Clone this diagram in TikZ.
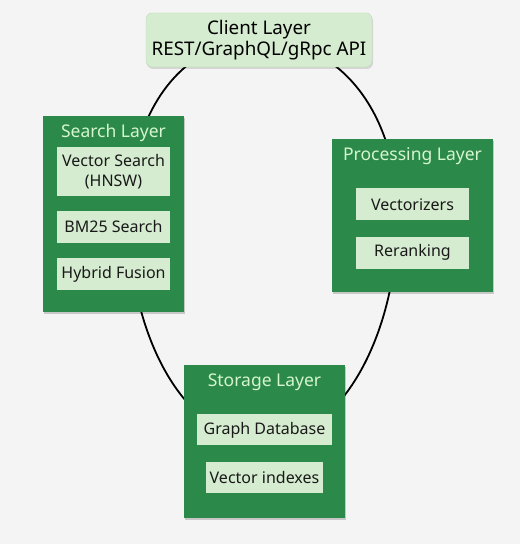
\documentclass[tikz,border=0pt]{standalone}
\usepackage{fontspec}
\setmainfont{Noto Sans}
\usepackage{tikz}
\usetikzlibrary{positioning,backgrounds,shadows}
\definecolor{canvas}{HTML}{F4F4F4}
\definecolor{layergreen}{HTML}{2B8A4A}
\definecolor{itemgreen}{HTML}{D5ECD0}
\definecolor{clientline}{HTML}{BCDDB5}
\definecolor{titlegreen}{HTML}{D6F5D0}

\begin{document}
\begin{tikzpicture}[x=1pt, y=1pt, node distance=15pt, font=\fontsize{16}{20}\selectfont,
  layer/.style={rectangle, fill=layergreen, inner sep=0pt,
    drop shadow={shadow xshift=1pt, shadow yshift=-2pt, opacity=0.18, fill=black}},
  layertitle/.style={text=titlegreen, inner sep=2pt, font=\fontsize{17.5}{21}\selectfont,
    text height=12.5pt, text depth=4pt},
  item/.style={rectangle, fill=itemgreen, text=black!90, inner sep=2pt, minimum height=32pt, align=center},
  link/.style={line width=1.8pt, black}]
  \useasboundingbox (0,0) rectangle (520,544);

  % Nodes
  \node [rectangle, rounded corners=6pt, fill=itemgreen, draw=clientline, align=center,
    minimum width=226pt, minimum height=54pt, inner sep=2pt, font=\fontsize{18.8}{20.5}\selectfont,
    drop shadow={shadow xshift=1pt, shadow yshift=-2pt, opacity=0.12, fill=black}]
    (client) at (259,504) {Client Layer\\REST/GraphQL/gRpc API};

  \node [layer, minimum width=141pt, minimum height=196pt] (search) at (113.5,330) {};
  \node [layertitle, below=7.5pt of search.north] (searchtitle) {Search Layer};
  \node [item, minimum width=113pt, minimum height=49pt, below=3pt of searchtitle] (vector) {Vector Search\\(HNSW)};
  \node [item, minimum width=113pt, below=14pt of vector] (bm25) {BM25 Search};
  \node [item, minimum width=113pt, below=15pt of bm25] (hybrid) {Hybrid Fusion};

  \node [layer, minimum width=161pt, minimum height=153pt] (processing) at (412.5,328.5) {};
  \node [layertitle, below=7.5pt of processing.north] (processingtitle) {Processing Layer};
  \node [item, minimum width=113pt, below=21pt of processingtitle] (vectorizers) {Vectorizers};
  \node [item, minimum width=113pt, below=16pt of vectorizers] (reranking) {Reranking};

  \node [layer, minimum width=161pt, minimum height=153pt] (storage) at (264.5,102.5) {};
  \node [layertitle, below=7.5pt of storage.north] (storagetitle) {Storage Layer};
  \node [item, minimum width=135pt, minimum height=31pt, below=21pt of storagetitle] (graphdb) {Graph Database};
  \node [item, minimum width=117pt, minimum height=31pt, below=16pt of graphdb] (indexes) {Vector indexes};

  % Links
  \begin{scope}[on background layer]
    \fill [canvas] (0,0) rectangle (520,544);
    \draw [link] (client.center) to [out=180, in=90, out looseness=0.95, in looseness=1.13] ([xshift=15pt]search.center);
    \draw [link] ([xshift=15pt]search.center) to [out=270, in=180, out looseness=1.21, in looseness=0.75] (storage.center);
    \draw [link] (storage.center) to [out=0, in=270, out looseness=0.71, in looseness=1.21] ([xshift=-15pt]processing.center);
    \draw [link] ([xshift=-15pt]processing.center) to [out=90, in=0, out looseness=1.11, in looseness=0.97] (client.center);
  \end{scope}
\end{tikzpicture}
\end{document}
